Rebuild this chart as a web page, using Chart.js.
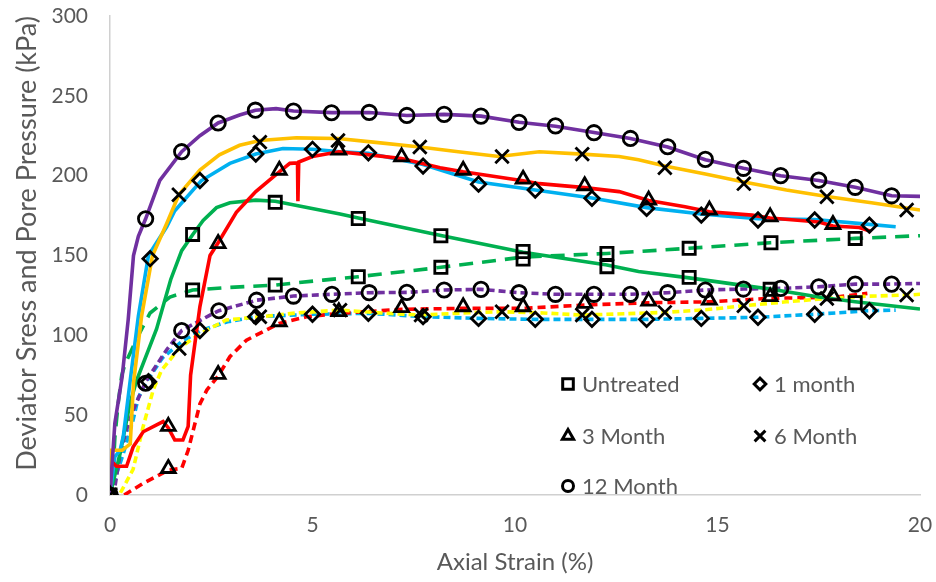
<!DOCTYPE html>
<html>
<head>
<meta charset="utf-8">
<title>Triaxial test - deviator stress and pore pressure</title>
<script src="https://cdn.jsdelivr.net/npm/chart.js@4.4.1/dist/chart.umd.min.js"></script>
<style>
  html, body { margin: 0; padding: 0; background: #fff; }
  #wrap { width: 936px; height: 582px; }
</style>
</head>
<body>
<div id="wrap"><canvas id="triaxialChart" width="936" height="582"></canvas></div>
<script>
// [axial strain %, kPa] pairs for each curing time

// Untreated
const untreatedDeviator = [[0,0],[0.25,26],[0.49,57],[0.66,72],[1.15,104],[1.5,135],[1.77,153],[2.04,163],[2.3,172],[2.63,180],[2.96,183],[3.6,184.7],[4.08,184],[4.77,180.5],[5.68,176],[6.13,173.5],[8.17,162.5],[10.2,152],[12.27,144],[13.05,140],[14.3,136],[15.85,130.5],[16.3,129],[17.5,124],[18.4,121],[20,116.5]];
const untreatedPore = [[0,0],[0.08,16],[0.12,36],[0.2,57],[0.29,75],[0.37,82],[0.7,100],[0.99,114],[1.48,124],[2.04,128.4],[2.96,130],[4.08,131.5],[5.27,134.6],[6.13,136.7],[8.17,142.6],[10.2,149],[12.27,151.3],[14.3,154.5],[16.3,158],[18.4,160.7],[20,162.4]];
const untreatedMarks = [[0,0],[2.04,163.2],[4.08,183.3],[6.13,173.2],[8.17,162.4],[10.2,152.5],[12.27,143],[14.3,136.3],[16.3,128.8],[18.4,120.4],
  [2.04,128.4],[4.08,131.5],[6.13,136.7],[8.17,142.6],[10.2,147.8],[12.27,151.3],[14.3,154.5],[16.32,158],[18.4,160.7]];

// 1 month
const month1Deviator = [[0,0],[0.12,24],[0.25,28],[0.33,37],[0.53,78],[0.7,112],[0.95,150],[1.4,168],[1.6,178],[2.25,196.8],[2.96,207.7],[3.6,213.5],[4.27,217],[5.0,216.5],[5.68,215],[6.38,214],[7.73,207],[9.1,196],[10.5,191],[11.9,186],[13.25,180],[14.6,176],[16.0,173],[17.4,172.5],[18.75,169.5],[19.4,168]];
const month1Pore = [[0,0],[0.08,7],[0.33,26],[0.57,47],[0.7,61],[0.9,71],[1.3,86],[1.77,96],[2.25,103],[2.9,108.5],[3.6,111.7],[5.0,113.2],[6.38,113.8],[7.73,111.7],[9.1,110.6],[10.5,110],[11.9,110],[13.25,110],[14.6,110.6],[16.0,111.3],[17.4,113.2],[18.75,115.4],[19.4,115.8]];
const month1Marks = [[0,0],[0.99,148],[2.22,197],[3.6,213.5],[5.0,216.5],[6.38,214.3],[7.73,206],[9.1,194.7],[10.5,191],[11.9,185.8],[13.25,179.5],[14.6,175.3],[16.0,172.2],[17.4,172.2],[18.75,169],
  [0.95,71],[2.22,103],[3.6,111.7],[5.0,113.2],[6.38,113.8],[7.73,111.7],[9.1,110.6],[10.5,110],[11.9,110],[13.25,110],[14.6,110.6],[16.0,111.3],[17.4,113.2],[18.75,115.4]];

// 3 Month
const month3Deviator = [[0,0],[0,22],[0.16,18],[0.41,18],[0.57,30],[0.82,39.6],[1.31,46],[1.44,42],[1.6,34.4],[1.8,34.4],[1.93,43],[1.99,75],[2.22,118],[2.47,150],[2.67,158],[3.12,177],[3.6,190],[4.18,202.4],[4.44,207.7],[4.63,208],[4.64,184],[4.66,208.5],[5.0,212],[5.65,215],[6.4,213],[7.2,210.8],[8.15,205],[8.72,202.4],[10.2,196.8],[10.6,195],[11.72,192.5],[12.57,190],[13.3,184.5],[14.2,180.5],[14.8,177.4],[15.85,175.3],[16.3,173.5],[17.5,171],[17.85,168.5],[18.5,167.5],[18.8,165]];
const month3Pore = [[0.35,0],[0.82,7.3],[1.44,15.6],[1.77,16.7],[1.93,28],[2.22,57],[2.39,65.7],[2.67,74.5],[2.96,86.6],[3.37,97],[4.18,107.5],[4.85,111.6],[5.68,113.8],[7.2,116.3],[8.72,116.9],[10.2,116.9],[11.72,119],[13.3,120.4],[14.8,121],[16.3,123.2],[17.85,123.8],[18.7,126.3]];
const month3Marks = [[0,0],[1.44,43],[2.67,157.5],[4.18,203.4],[5.65,216],[7.2,211.8],[8.72,203.4],[10.2,197.8],[11.72,193.7],[13.3,184.7],[14.8,178.4],[16.3,174.2],[17.85,169.4],
  [1.44,16.6],[2.67,75.5],[4.18,108.5],[5.65,114.8],[7.2,117.3],[8.72,117.9],[10.2,117.9],[11.72,120],[13.3,121.4],[14.8,122],[16.3,124.2],[17.85,124.8]];

// 6 Month
const month6Deviator = [[0,0],[0.04,28],[0.3,28],[0.5,32],[0.58,70],[0.78,112],[1.05,150],[1.4,170],[1.7,188],[2.22,203.5],[2.7,213],[3.2,219],[3.7,222],[4.6,223.7],[5.63,223.3],[6.5,221],[7.65,218],[8.6,215],[9.6,212],[10.6,215],[11.66,213.5],[12.57,212],[13.05,210],[13.7,206],[14.7,201],[15.65,196],[16.7,191],[17.7,187],[18.8,183],[20,178.5]];
const month6Pore = [[0,0],[0.25,1],[0.57,16],[0.82,43],[1.07,66],[1.27,78],[1.71,92],[2.22,101],[2.87,109.6],[3.7,111.6],[4.6,114],[5.68,115.8],[6.7,114],[7.68,112.7],[8.7,114],[9.68,114.8],[10.7,114],[11.66,112.7],[12.7,113.5],[13.7,114.4],[14.7,116],[15.65,118.5],[16.7,121],[17.7,123.1],[18.7,124.5],[19.67,125.2],[20,125.7]];
const month6Marks = [[0,0],[1.7,188],[3.7,221],[5.63,222],[7.65,218],[9.68,212],[11.66,213.5],[13.7,205],[15.65,195],[17.7,186.8],[19.67,178.5],
  [1.71,91.8],[3.7,111.6],[5.68,115.8],[7.68,112.7],[9.68,114.8],[11.66,112.7],[13.7,114.4],[15.65,118.5],[17.7,123.1],[19.67,125.2]];

// 12 Month
const month12Deviator = [[0,0],[0.12,45],[0.3,74],[0.45,110],[0.58,150],[0.7,162],[0.88,173],[1.23,197],[1.77,215],[2.22,225],[2.67,233],[3.2,238],[3.59,241],[4.1,242],[4.53,240.5],[5.47,239.5],[6.4,239.6],[7.33,237.7],[8.25,238.4],[9.16,237.3],[10.1,233.4],[11.0,231],[11.95,227],[12.85,223.3],[13.77,218],[14.7,210],[15.64,204.6],[16.56,200],[17.5,197],[18.4,192.7],[19.3,187.4],[20,187]];
const month12Pore = [[0,0],[0.12,5],[0.25,26],[0.41,41],[0.57,53],[0.88,71],[1.4,91],[1.77,103],[2.47,112.7],[2.69,115.4],[3.62,122],[4.53,124.6],[5.48,125.7],[6.4,126.7],[7.33,126.9],[8.25,128.4],[9.16,128.8],[10.1,126.7],[11,125.7],[11.95,125.7],[12.85,125.7],[13.77,126.7],[14.7,128.4],[15.64,129],[16.56,129.4],[17.5,130.4],[18.4,132.1],[19.3,132.1],[20,132.5]];
const month12Marks = [[0,0],[0.88,173],[1.77,215],[2.67,233],[3.59,241],[4.53,240.4],[5.47,239.4],[6.4,239.6],[7.33,237.7],[8.25,238.4],[9.16,237.3],[10.1,233.4],[11.0,231.2],[11.95,226.9],[12.85,223.3],[13.77,218.1],[14.7,210.2],[15.64,204.6],[16.56,200],[17.5,197.2],[18.4,192.7],[19.3,187.4],
  [0.88,70],[1.77,103],[2.69,115.4],[3.62,122],[4.53,124.6],[5.48,125.7],[6.4,126.7],[7.33,126.9],[8.25,128.4],[9.16,128.8],[10.1,126.7],[11,125.7],[11.95,125.7],[12.85,125.7],[13.77,126.7],[14.7,128.4],[15.64,129],[16.56,129.4],[17.5,130.4],[18.4,132.1],[19.3,132.1]];

const seriesNames = ['Untreated', '1 month', '3 Month', '6 Month', '12 Month'];
const strainRange = [0, 20];
const stressRange = [0, 300];

const FONT = 'Lato, "Open Sans", sans-serif';
const GREY = '#595959';

// one entry per curing time: marker shape, line colours and dash styles
const groups = [
  { name: seriesNames[0], marks: untreatedMarks, dev: untreatedDeviator, pore: untreatedPore,
    shape: 'rect', r: 8.6, legendR: 7.5, devColor: '#00B050', poreColor: '#00B050', poreDash: [14, 9] },
  { name: seriesNames[1], marks: month1Marks, dev: month1Deviator, pore: month1Pore,
    shape: 'rectRot', r: 7.2, legendR: 5.8, devColor: '#00B0F0', poreColor: '#00B0F0', poreDash: [7, 4] },
  { name: seriesNames[2], marks: month3Marks, dev: month3Deviator, pore: month3Pore,
    shape: 'triangle', r: 8, legendR: 6.5, devColor: '#FF0000', poreColor: '#FF0000', poreDash: [8, 5] },
  { name: seriesNames[3], marks: month6Marks, dev: month6Deviator, pore: month6Pore,
    shape: 'crossRot', r: 9.5, legendR: 7.6, devColor: '#FFC000', poreColor: '#FFFF00', poreDash: [7, 4] },
  { name: seriesNames[4], marks: month12Marks, dev: month12Deviator, pore: month12Pore,
    shape: 'circle', r: 7.2, legendR: 5.5, devColor: '#7030A0', poreColor: '#7030A0', poreDash: [7, 4] }
];

const datasets = [];
// markers first so they sit above every line
groups.forEach(g => {
  datasets.push({
    label: g.name,
    data: g.marks,
    showLine: false,
    pointStyle: g.shape,
    pointRadius: g.r,
    pointBorderWidth: 2.8,
    pointBorderColor: '#000',
    pointBackgroundColor: 'rgba(0,0,0,0)',
    isMarker: true,
    legendR: g.legendR
  });
});
groups.slice().reverse().forEach(g => {
  datasets.push({
    label: g.name + ' deviator',
    data: g.dev,
    showLine: true,
    pointRadius: 0,
    borderColor: g.devColor,
    borderWidth: 3.6,
    tension: 0
  });
});
groups.slice().reverse().forEach(g => {
  datasets.push({
    label: g.name + ' pore pressure',
    data: g.pore,
    showLine: true,
    pointRadius: 0,
    borderColor: g.poreColor,
    borderWidth: 3.6,
    borderDash: g.poreDash,
    tension: 0
  });
});

// legend for the marker series, two columns inside the plot area
const markerLegend = {
  id: 'markerLegend',
  afterDraw(chart) {
    const ctx = chart.ctx;
    const area = chart.chartArea;
    const cols = [area.left + 458, area.left + 650];
    const rows = [area.top + 368, area.top + 420, area.top + 470];
    const items = chart.data.datasets.filter(d => d.isMarker);
    ctx.save();
    items.forEach((d, i) => {
      const x = cols[i % 2];
      const y = rows[Math.floor(i / 2)];
      ctx.strokeStyle = '#000';
      ctx.fillStyle = 'rgba(0,0,0,0)';
      ctx.lineWidth = 3;
      Chart.helpers.drawPoint(ctx, { pointStyle: d.pointStyle, radius: d.legendR, borderWidth: 3, rotation: 0 }, x, y);
      ctx.fillStyle = GREY;
      ctx.font = '22px ' + FONT;
      ctx.textBaseline = 'middle';
      ctx.textAlign = 'left';
      ctx.fillText(d.label, x + 14, y + 1);
    });
    ctx.restore();
  }
};

new Chart(document.getElementById('triaxialChart'), {
  type: 'scatter',
  data: { datasets: datasets },
  options: {
    responsive: false,
    animation: false,
    layout: { padding: 0 },
    plugins: {
      legend: { display: false },
      tooltip: { enabled: false }
    },
    scales: {
      x: {
        type: 'linear',
        min: strainRange[0],
        max: strainRange[1],
        afterFit: s => { s.height = 87; s.paddingLeft = 0; s.paddingRight = 16; },
        grid: { display: false, drawTicks: false },
        border: { display: true, color: '#d0d0d0', width: 1.5 },
        ticks: { stepSize: 5, padding: 18, color: GREY, font: { family: FONT, size: 21 } },
        title: { display: true, text: 'Axial Strain (%)', color: GREY, font: { family: FONT, size: 24 }, padding: { top: 0, bottom: 5 } }
      },
      y: {
        type: 'linear',
        min: stressRange[0],
        max: stressRange[1],
        afterFit: s => { s.width = 110; s.paddingTop = 16; s.paddingBottom = 0; },
        grid: { display: false, drawTicks: false },
        border: { display: true, color: '#d0d0d0', width: 1.5 },
        ticks: { stepSize: 50, padding: 22, color: GREY, font: { family: FONT, size: 21 } },
        title: { display: true, text: 'Deviator Sress and Pore Pressure (kPa)', align: 'end', color: GREY, font: { family: FONT, size: 27 }, padding: { top: 11, bottom: 0 } }
      }
    }
  },
  plugins: [markerLegend]
});
</script>
</body>
</html>
